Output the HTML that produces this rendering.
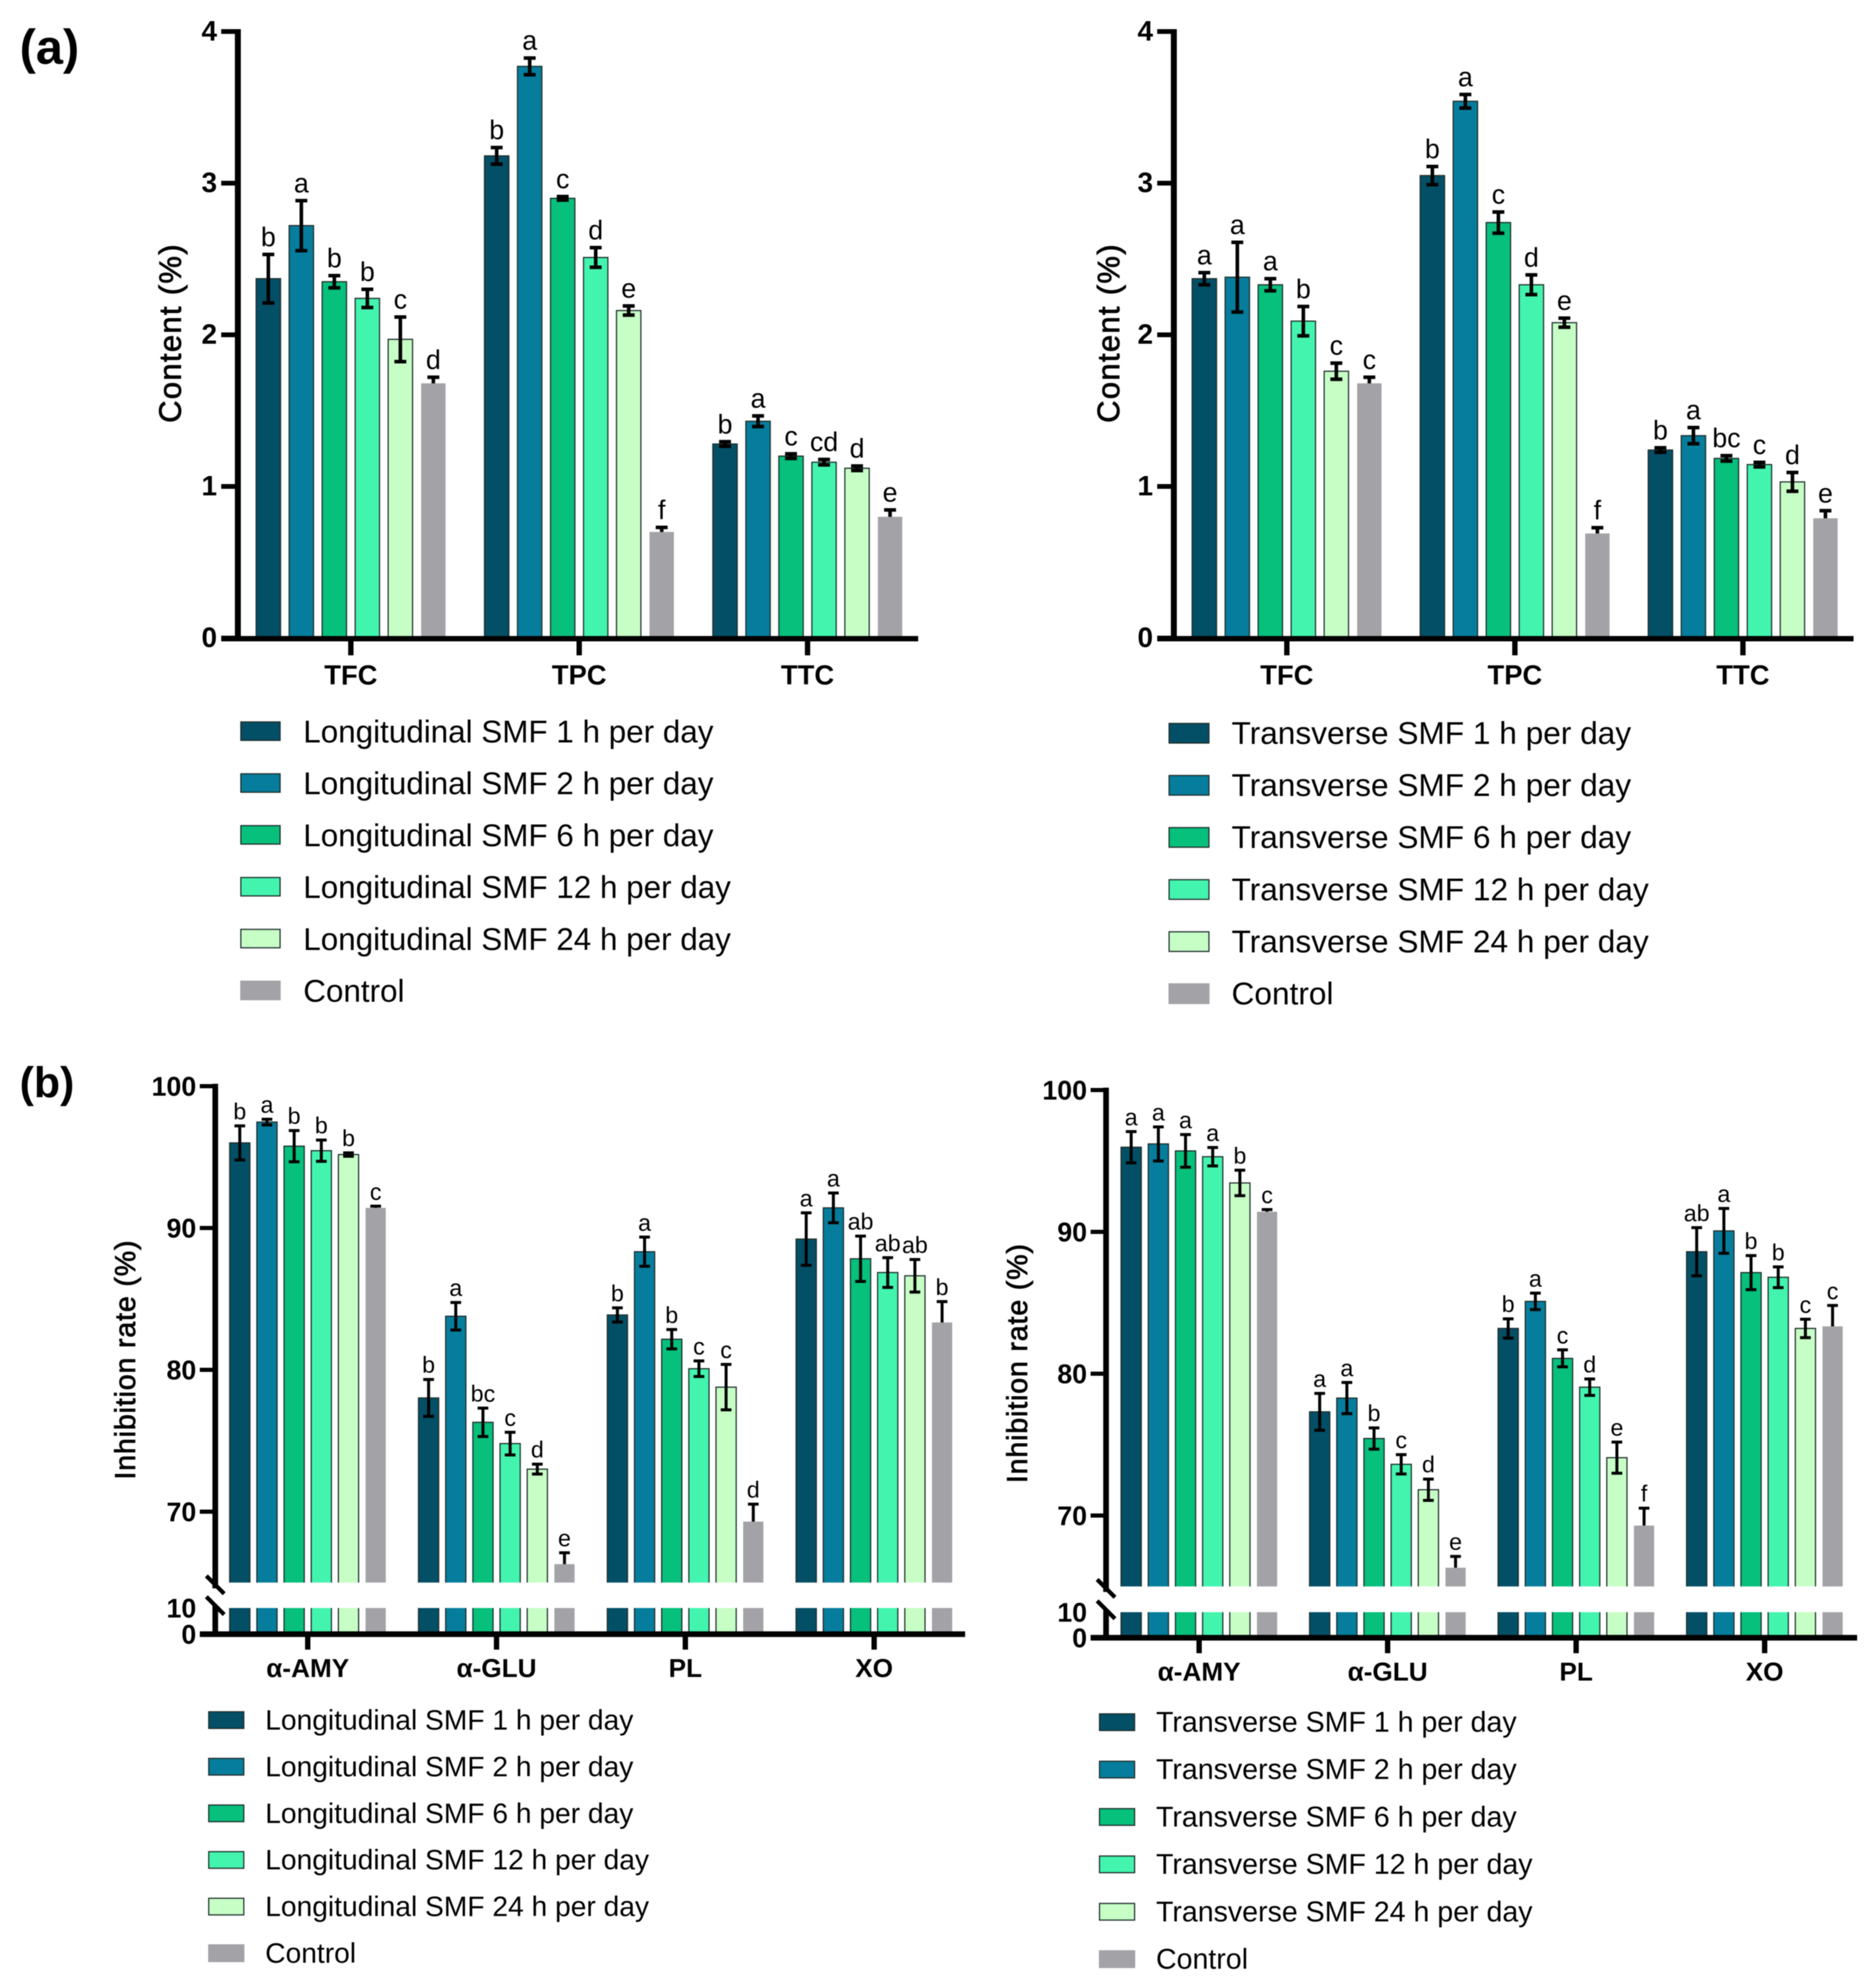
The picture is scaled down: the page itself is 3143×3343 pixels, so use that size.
<!DOCTYPE html>
<html lang="en">
<head>
<meta charset="utf-8">
<title>Content and inhibition rate under SMF treatments</title>
<style>
html,body{margin:0;padding:0;background:#fff;width:3143px;height:3343px;overflow:hidden}
svg{display:block;filter:blur(0.7px)}
text{font-family:"Liberation Sans",sans-serif;fill:#000}
</style>
</head>
<body>
<svg id="figure" xmlns="http://www.w3.org/2000/svg" width="3143" height="3343" viewBox="0 0 3143 3343">
  <rect x="0" y="0" width="3143" height="3343" fill="#ffffff"/>
  <text x="33" y="107" font-size="82" font-weight="700">(a)</text>
  <text x="33" y="1845" font-size="72" font-weight="700">(b)</text>
</svg>
<script>
// ---------- shared series ----------
const seriesColors = ['#034f66', '#067d9c', '#06c07c', '#43f4af', '#c7fec6', '#a2a2a7'];
const longitudinalNames = ['Longitudinal SMF 1 h per day', 'Longitudinal SMF 2 h per day', 'Longitudinal SMF 6 h per day', 'Longitudinal SMF 12 h per day', 'Longitudinal SMF 24 h per day', 'Control'];
const transverseNames = ['Transverse SMF 1 h per day', 'Transverse SMF 2 h per day', 'Transverse SMF 6 h per day', 'Transverse SMF 12 h per day', 'Transverse SMF 24 h per day', 'Control'];

// ---------- panel (a) ----------
const contentCategories = ['TFC', 'TPC', 'TTC'];
const contentTicks = [0, 1, 2, 3, 4];

const aLeftMeans = [
  [2.37, 2.72, 2.35, 2.24, 1.97, 1.68],
  [3.18, 3.77, 2.90, 2.51, 2.16, 0.70],
  [1.28, 1.43, 1.20, 1.16, 1.12, 0.80]
];
const aLeftErrors = [
  [0.16, 0.165, 0.04, 0.06, 0.147, 0.04],
  [0.055, 0.055, 0.012, 0.065, 0.03, 0.03],
  [0.015, 0.035, 0.015, 0.018, 0.015, 0.045]
];
const aLeftLetters = [
  ['b', 'a', 'b', 'b', 'c', 'd'],
  ['b', 'a', 'c', 'd', 'e', 'f'],
  ['b', 'a', 'c', 'cd', 'd', 'e']
];

const aRightMeans = [
  [2.37, 2.38, 2.33, 2.09, 1.76, 1.68],
  [3.05, 3.54, 2.74, 2.33, 2.08, 0.69],
  [1.24, 1.335, 1.185, 1.144, 1.03, 0.79]
];
const aRightErrors = [
  [0.04, 0.23, 0.04, 0.097, 0.053, 0.04],
  [0.06, 0.045, 0.07, 0.065, 0.03, 0.038],
  [0.015, 0.053, 0.018, 0.015, 0.062, 0.05]
];
const aRightLetters = [
  ['a', 'a', 'a', 'b', 'c', 'c'],
  ['b', 'a', 'c', 'd', 'e', 'f'],
  ['b', 'a', 'bc', 'c', 'd', 'e']
];

// ---------- panel (b) ----------
const inhibitionCategories = ['α-AMY', 'α-GLU', 'PL', 'XO'];
const inhibitionTicks = [0, 10, 70, 80, 90, 100];

const bLeftMeans = [
  [96.0, 97.47, 95.77, 95.45, 95.18, 91.42],
  [78.02, 83.78, 76.3, 74.8, 73.0, 66.3],
  [83.87, 88.33, 82.16, 80.08, 78.78, 69.3],
  [89.22, 91.42, 87.83, 86.86, 86.63, 83.34]
];
const bLeftErrors = [
  [1.2, 0.2, 1.1, 0.75, 0.12, 0.12],
  [1.3, 0.97, 1.0, 0.8, 0.35, 0.8],
  [0.5, 1.03, 0.68, 0.55, 1.6, 1.23],
  [1.85, 1.05, 1.6, 1.05, 1.15, 1.47]
];
const bLeftLetters = [
  ['b', 'a', 'b', 'b', 'b', 'c'],
  ['b', 'a', 'bc', 'c', 'd', 'e'],
  ['b', 'a', 'b', 'c', 'c', 'd'],
  ['a', 'a', 'ab', 'ab', 'ab', 'b']
];

const bRightMeans = [
  [95.97, 96.2, 95.71, 95.3, 93.45, 91.42],
  [77.31, 78.28, 75.43, 73.61, 71.82, 66.32],
  [83.19, 85.1, 81.08, 79.05, 74.08, 69.29],
  [88.6, 90.07, 87.13, 86.8, 83.19, 83.34]
];
const bRightErrors = [
  [1.1, 1.2, 1.15, 0.65, 0.9, 0.15],
  [1.3, 1.1, 0.75, 0.68, 0.75, 0.8],
  [0.68, 0.58, 0.6, 0.58, 1.1, 1.23],
  [1.7, 1.58, 1.2, 0.73, 0.65, 1.47]
];
const bRightLetters = [
  ['a', 'a', 'a', 'a', 'b', 'c'],
  ['a', 'a', 'b', 'c', 'd', 'e'],
  ['b', 'a', 'c', 'd', 'e', 'f'],
  ['ab', 'a', 'b', 'b', 'c', 'c']
];

const SVGNS = 'http://www.w3.org/2000/svg';
const figure = document.getElementById('figure');

function add(parent, tag, attrs, content) {
  const node = document.createElementNS(SVGNS, tag);
  for (const key in attrs) node.setAttribute(key, attrs[key]);
  if (content !== undefined) node.textContent = content;
  parent.appendChild(node);
  return node;
}

function drawErrorBar(parent, cx, yHigh, yLow, showLower, capW, sw) {
  const el = add(parent, 'path', {
    d: 'M' + (cx - capW / 2) + ' ' + yHigh + 'H' + (cx + capW / 2) + 'M' + cx + ' ' + yHigh + 'V' + yLow +
       (showLower ? 'M' + (cx - capW / 2) + ' ' + yLow + 'H' + (cx + capW / 2) : ''),
    fill: 'none', stroke: '#000', 'stroke-width': sw
  });
  
  
}

function drawBarShape(parent, x, w, yT, yB, seriesIndex, closedTop) {
  const fill = add(parent, 'rect', {x: x, y: yT, width: w, height: Math.max(0, yB - yT), fill: seriesColors[seriesIndex]});
  
  
  if (seriesIndex < 5) {
    const d = closedTop
      ? 'M' + x + ' ' + yB + 'V' + yT + 'H' + (x + w) + 'V' + yB
      : 'M' + x + ' ' + yT + 'V' + yB + 'M' + (x + w) + ' ' + yT + 'V' + yB;
    const edge = add(parent, 'path', {d: d, fill: 'none', stroke: '#20302f', 'stroke-width': 2});
    
    
  }
}

function drawContentChart(cfg) {
  const root = add(figure, 'g', {});
  
  
  const yScale = function (v) { return cfg.y0 - v * (cfg.y0 - cfg.yMax) / 4; };
  const xCenter = function (g) { return cfg.groupCenters0 + g * cfg.groupStep; };
  const barCenter = function (g, s) { return xCenter(g) + (s - 2.5) * cfg.barStep; };

  cfg.means.forEach(function (row, g) {
    row.forEach(function (m, s) {
      const cx = barCenter(g, s);
      drawBarShape(root, cx - cfg.barW / 2, cfg.barW, yScale(m), cfg.y0, s, true);
      const yHi = yScale(m + cfg.errors[g][s]);
      drawErrorBar(root, cx, yHi, yScale(s === 5 ? m : m - cfg.errors[g][s]), s !== 5, 20, 6);
      const lab = add(root, 'text', {x: cx, y: yHi - 14, 'font-size': 45, 'text-anchor': 'middle'}, cfg.letters[g][s]);
      
      
    });
  });

  const yAxis = add(root, 'line', {x1: cfg.axisX, x2: cfg.axisX, y1: cfg.yMax - 4, y2: cfg.y0, stroke: '#000', 'stroke-width': 10});
  
  
  const xAxis = add(root, 'line', {x1: cfg.axisX - 28, x2: cfg.xEnd, y1: cfg.y0 + 1, y2: cfg.y0 + 1, stroke: '#000', 'stroke-width': 9});
  
  

  contentTicks.forEach(function (t) {
    const y = yScale(t);
    const tick = add(root, 'line', {x1: cfg.axisX - 28, x2: cfg.axisX, y1: y, y2: y, stroke: '#000', 'stroke-width': 8});
    
    
    const lab = add(root, 'text', {x: cfg.axisX - 35, y: y + 15, 'font-size': 47, 'font-weight': 700, 'text-anchor': 'end'}, String(t));
    
    
  });

  contentCategories.forEach(function (c, g) {
    const x = xCenter(g);
    const tick = add(root, 'line', {x1: x, x2: x, y1: cfg.y0, y2: cfg.y0 + 29, stroke: '#000', 'stroke-width': 9});
    
    
    const lab = add(root, 'text', {x: x, y: 1151, 'font-size': 46, 'font-weight': 700, 'text-anchor': 'middle'}, c);
    
    
  });

  const title = add(root, 'text', {
    x: 0, y: 0, 'font-size': 52, 'text-anchor': 'middle', stroke: '#000', 'stroke-width': 1.2,
    textLength: 300, lengthAdjust: 'spacing',
    transform: 'translate(' + cfg.titleX + ' 561) rotate(-90)'
  }, 'Content (%)');
  
  
}

function drawInhibitionChart(cfg) {
  const root = add(figure, 'g', {});
  
  
  const breakValue = 65;
  const yScale = function (v) {
    if (v <= 10) return cfg.y0 - v * (cfg.y0 - cfg.y10) / 10;
    return cfg.y100 + (100 - v) * cfg.perUnit;
  };
  const xCenter = function (g) { return cfg.groupCenters0 + g * cfg.groupStep; };
  const barCenter = function (g, s) { return xCenter(g) + (s - 2.5) * cfg.barStep; };

  cfg.means.forEach(function (row, g) {
    row.forEach(function (m, s) {
      const cx = barCenter(g, s);
      const x = cx - cfg.barW / 2;
      drawBarShape(root, x, cfg.barW, yScale(m), yScale(breakValue), s, true);
      drawBarShape(root, x, cfg.barW, yScale(10), yScale(0), s, false);
      const yHi = yScale(m + cfg.errors[g][s]);
      drawErrorBar(root, cx, yHi, yScale(s === 5 ? m : m - cfg.errors[g][s]), s !== 5, 18, 5);
      const lab = add(root, 'text', {x: cx, y: yHi - 11, 'font-size': 39, 'text-anchor': 'middle'}, cfg.letters[g][s]);
      
      
    });
  });

  const yUpper = add(root, 'line', {x1: cfg.axisX, x2: cfg.axisX, y1: cfg.y100 - 4, y2: cfg.slash1 + 6, stroke: '#000', 'stroke-width': 9.5});
  
  
  const yLower = add(root, 'line', {x1: cfg.axisX, x2: cfg.axisX, y1: cfg.slash2, y2: cfg.y0, stroke: '#000', 'stroke-width': 9.5});
  
  
  [cfg.slash1, cfg.slash2].forEach(function (cy) {
    const slash = add(root, 'line', {x1: cfg.axisX - 15, y1: cy - 15, x2: cfg.axisX + 15, y2: cy + 15, stroke: '#000', 'stroke-width': 7});
    
    
  });
  const xAxis = add(root, 'line', {x1: cfg.axisX - 26, x2: cfg.xEnd, y1: cfg.y0, y2: cfg.y0, stroke: '#000', 'stroke-width': 9.5});
  
  

  inhibitionTicks.forEach(function (t) {
    const y = yScale(t);
    if (t > 10) {
      const tick = add(root, 'line', {x1: cfg.axisX - 26, x2: cfg.axisX, y1: y, y2: y, stroke: '#000', 'stroke-width': 7});
      
      
    }
    const lab = add(root, 'text', {x: cfg.axisX - 32, y: y + 16, 'font-size': 45, 'font-weight': 700, 'text-anchor': 'end'}, String(t));
    
    
  });

  inhibitionCategories.forEach(function (c, g) {
    const x = xCenter(g);
    const tick = add(root, 'line', {x1: x, x2: x, y1: cfg.y0, y2: cfg.y0 + 26, stroke: '#000', 'stroke-width': 9});
    
    
    const lab = add(root, 'text', {x: x, y: cfg.y0 + 72, 'font-size': 44, 'font-weight': 700, 'text-anchor': 'middle'}, c);
    
    
  });

  const title = add(root, 'text', {
    x: 0, y: 0, 'font-size': 48, 'text-anchor': 'middle', stroke: '#000', 'stroke-width': 1.2,
    textLength: 402, lengthAdjust: 'spacing',
    transform: 'translate(' + cfg.titleX + ' ' + cfg.titleY + ') rotate(-90)'
  }, 'Inhibition rate (%)');
  
  
}

function drawLegend(cfg) {
  const root = add(figure, 'g', {});
  
  
  cfg.names.forEach(function (label, i) {
    const cy = cfg.y0 + i * cfg.step;
    const entry = add(root, 'g', {});
    
    
    const swatch = add(entry, 'rect', {
      x: cfg.swatchX + 1, y: cy - cfg.swatchH / 2 + 1, width: cfg.swatchW - 2, height: cfg.swatchH - 2,
      fill: seriesColors[i], stroke: i < 5 ? '#20302f' : seriesColors[i], 'stroke-width': 2
    });
    
    
    const text = add(entry, 'text', {x: cfg.textX, y: cy + cfg.baseline, 'font-size': cfg.fontSize}, label);
    
    
  });
}

drawContentChart({
  name: 'chart-content-longitudinal', means: aLeftMeans, errors: aLeftErrors, letters: aLeftLetters,
  axisX: 400, xEnd: 1544, y0: 1073, yMax: 53, groupCenters0: 590, groupStep: 384, barStep: 55.5, barW: 41, titleX: 304
});
drawContentChart({
  name: 'chart-content-transverse', means: aRightMeans, errors: aRightErrors, letters: aRightLetters,
  axisX: 1974, xEnd: 3117, y0: 1073, yMax: 53, groupCenters0: 2164, groupStep: 383.5, barStep: 55.5, barW: 41, titleX: 1882
});
drawInhibitionChart({
  name: 'chart-inhibition-longitudinal', means: bLeftMeans, errors: bLeftErrors, letters: bLeftLetters,
  axisX: 362, xEnd: 1623, y0: 2748, y10: 2704, y100: 1826.5, perUnit: 23.85,
  slash1: 2665, slash2: 2700, groupCenters0: 517.5, groupStep: 317.5, barStep: 45.7, barW: 34, titleX: 227, titleY: 2287
});
drawInhibitionChart({
  name: 'chart-inhibition-transverse', means: bRightMeans, errors: bRightErrors, letters: bRightLetters,
  axisX: 1860, xEnd: 3123, y0: 2754, y10: 2711, y100: 1833, perUnit: 23.85,
  slash1: 2671, slash2: 2707, groupCenters0: 2016.5, groupStep: 317, barStep: 45.7, barW: 34, titleX: 1727, titleY: 2293
});

drawLegend({name: 'legend-content-longitudinal', names: longitudinalNames, swatchX: 404, swatchW: 68, swatchH: 33, textX: 510, y0: 1229.5, step: 87.2, baseline: 19, fontSize: 52.8});
drawLegend({name: 'legend-content-transverse', names: transverseNames, swatchX: 1965, swatchW: 69, swatchH: 35, textX: 2071, y0: 1233, step: 87.6, baseline: 18, fontSize: 53.2});
drawLegend({name: 'legend-inhibition-longitudinal', names: longitudinalNames, swatchX: 350, swatchW: 61, swatchH: 30, textX: 446, y0: 2892.5, step: 78.4, baseline: 16, fontSize: 47.4});
drawLegend({name: 'legend-inhibition-transverse', names: transverseNames, swatchX: 1848, swatchW: 61, swatchH: 30, textX: 1944, y0: 2896, step: 79.7, baseline: 16, fontSize: 48});
</script>
</body>
</html>
